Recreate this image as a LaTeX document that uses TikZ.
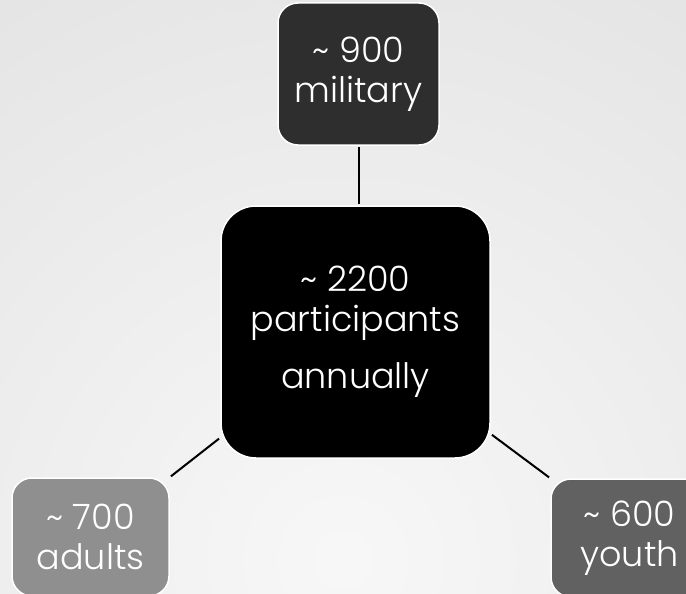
\documentclass[tikz,border=0pt]{standalone}
\usepackage{fontspec}
\IfFontExistsTF{Poppins Light}{\setmainfont{Poppins Light}}{\setmainfont{Poppins}}
\begin{document}
\begin{tikzpicture}[x=1pt,y=-1pt,
  box/.style={draw=white,line width=1.5pt,rounded corners=20pt,text=white,
    inner sep=0pt,align=center,font=\fontsize{35}{40}\selectfont},
  conn/.style={black,line width=2pt,shorten <=1.5pt,shorten >=1.5pt}]
\useasboundingbox (0,0) rectangle (686,594);
\begin{scope}
\clip (0,0) rectangle (686,594);
\fill[inner color=black!3,outer color=black!13] (343,560) circle (900);
\node[box,fill=black!82,minimum width=161pt,minimum height=142pt] (top) at (358.5,74) {\char"007E{} 900\\military};
\node[box,fill=black,rounded corners=35pt,minimum width=269pt,minimum height=252pt] (center) at (355.5,332) {\char"007E{} 2200\\participants\\[17pt]annually};
\node[box,fill=black!44,minimum width=157pt,minimum height=118pt] (bl) at (90.5,537) {\char"007E{} 700\\adults};
\node[box,fill=black!62,minimum width=157pt,minimum height=118pt] (br) at (629.5,538) {\char"007E{} 600\\youth};
\end{scope}
\draw[conn] (top.south) -- (top.south |- center.north);
\draw[conn] (bl.north east) -- (center.218);
\draw[conn] (br.north west) -- (center.-37);
\end{tikzpicture}
\end{document}
